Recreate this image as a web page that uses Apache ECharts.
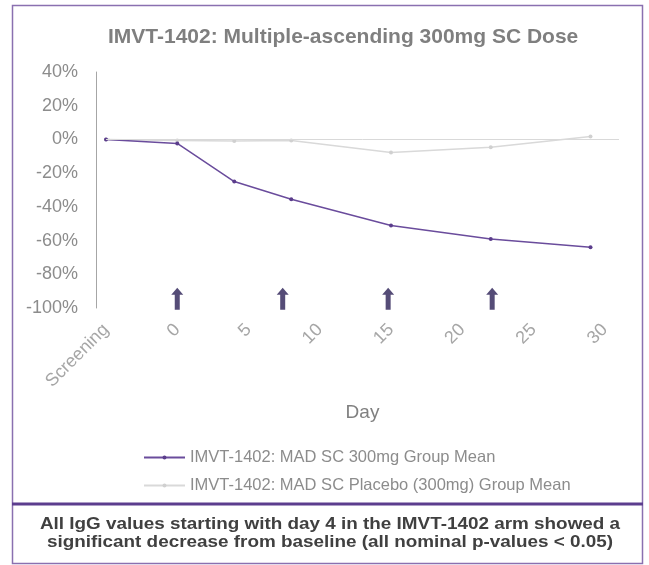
<!DOCTYPE html>
<html>
<head>
<meta charset="utf-8">
<script src="https://cdn.jsdelivr.net/npm/echarts@6/dist/echarts.min.js"></script>
<style>
  html, body { margin: 0; padding: 0; background: #fff; }
  #chart { width: 649px; height: 565px; }
</style>
</head>
<body>
<div id="chart"></div>
<script>
// 数据
var days = [-5, 0, 4, 8, 15, 22, 29];            // -5 = Screening
var meanValues = [0, -2.4, -25, -35.5, -51, -59, -64];
var placeboValues = [0, -0.6, -1, -0.6, -7.7, -4.7, 1.8];
var doseDays = [0, 7.4, 14.8, 22.1];             // 给药箭头
var yTicks = [-100, -80, -60, -40, -20, 0, 20, 40];

var meanName = 'IMVT-1402: MAD SC 300mg Group Mean';
var placeboName = 'IMVT-1402: MAD SC Placebo (300mg) Group Mean';
var font = 'Liberation Sans, Arial, sans-serif';

var myChart = echarts.init(document.getElementById('chart'));

var option = {
  backgroundColor: '#ffffff',
  animation: false,
  title: {
    text: 'IMVT-1402: Multiple-ascending 300mg SC Dose',
    left: 103,
    top: 22,
    textStyle: { color: '#7f7f7f', fontSize: 21, fontWeight: 'bold', fontFamily: font }
  },
  legend: {
    data: [meanName, placeboName],
    orient: 'vertical',
    left: 138,
    top: 444,
    itemWidth: 41,
    itemHeight: 5,
    itemGap: 11,
    textStyle: { color: '#8c8c8c', fontSize: 16.5, fontFamily: font }
  },
  grid: {
    left: 106,
    right: 30,
    top: 72,
    bottom: 257
  },
  xAxis: {
    type: 'value',
    min: -5,
    max: 31,
    interval: 5,
    name: 'Day',
    nameLocation: 'middle',
    nameGap: 95,
    nameTextStyle: { color: '#808080', fontSize: 19, fontFamily: font },
    axisLine: { show: false },
    axisTick: { show: false },
    splitLine: { show: false },
    axisLabel: {
      rotate: 45,
      margin: 19,
      showMaxLabel: false,
      color: '#a6a6a6',
      fontSize: 18,
      fontFamily: font,
      formatter: function (v) {
        if (v === -5) return 'Screening';
        if (v % 5 !== 0) return '';
        return v;
      }
    }
  },
  yAxis: {
    type: 'value',
    min: yTicks[0],
    max: yTicks[yTicks.length - 1],
    interval: 20,
    offset: 10,
    axisLine: { show: true, onZero: false, lineStyle: { color: '#a6a6a6', width: 1 } },
    axisTick: { show: false },
    splitLine: { show: false },
    axisLabel: {
      margin: 18,
      color: '#8c8c8c',
      fontSize: 18,
      fontFamily: font,
      formatter: '{value}%'
    }
  },
  series: [{
    name: placeboName,
    type: 'line',
    data: days.map(function (d, i) { return [d, placeboValues[i]]; }),
    symbol: 'circle',
    symbolSize: 4,
    lineStyle: { color: '#d9d9d9', width: 1.5 },
    itemStyle: { color: '#d0d0d0' },
    z: 2,
    markLine: {
      silent: true,
      symbol: 'none',
      label: { show: false },
      lineStyle: { color: '#d9d9d9', width: 1, type: 'solid' },
      data: [{ yAxis: 0 }]
    }
  }, {
    name: meanName,
    type: 'line',
    data: days.map(function (d, i) { return [d, meanValues[i]]; }),
    symbol: 'circle',
    symbolSize: 4,
    lineStyle: { color: '#6a4c9c', width: 1.5 },
    itemStyle: { color: '#5b3d8c' },
    z: 3
  }, {
    name: 'dose',
    type: 'scatter',
    data: doseDays.map(function (d) { return [d, -94.5]; }),
    symbol: 'path://M6,0 L12,7 L8.5,7 L8.5,22 L3.5,22 L3.5,7 L0,7 Z',
    symbolSize: [12, 22],
    itemStyle: { color: '#2a1f55' },
    silent: true
  }],
  graphic: [{
    type: 'rect',
    shape: { x: 12.5, y: 5.5, width: 630, height: 558 },
    style: { fill: 'none', stroke: '#8a70b0', lineWidth: 1.5 },
    silent: true
  }, {
    type: 'line',
    shape: { x1: 12, y1: 504, x2: 643, y2: 504 },
    style: { stroke: '#5c3d8e', lineWidth: 3 },
    silent: true
  }, {
    type: 'text',
    x: 330,
    y: 516,
    scaleX: 1.18,
    style: {
      text: 'All IgG values starting with day 4 in the IMVT-1402 arm showed a\nsignificant decrease from baseline (all nominal p-values < 0.05)',
      fill: '#404040',
      font: 'bold 16px ' + font,
      textAlign: 'center',
      lineHeight: 18
    },
    silent: true
  }]
};

myChart.setOption(option);
</script>
</body>
</html>
